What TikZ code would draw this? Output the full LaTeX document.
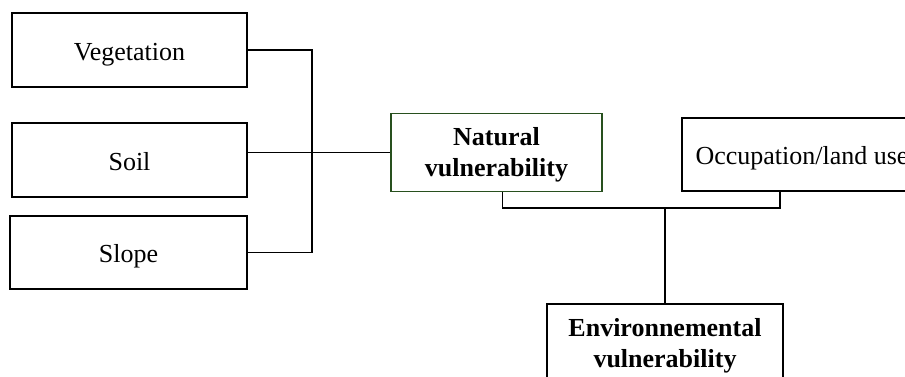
\documentclass[tikz,border=0pt]{standalone}
\usepackage{fontspec}
\setmainfont{Liberation Serif}
\definecolor{natgreen}{RGB}{40,80,30}

\begin{document}
\begin{tikzpicture}[x=0.5pt,y=-0.5pt,line width=0.8pt,
  box/.style={draw,rectangle,minimum width=117.5pt,minimum height=37pt,inner sep=0pt,
    text height=12pt,text depth=2pt,font=\fontsize{13}{15.5}\selectfont,align=center},
  boldbox/.style={box,text height=24pt,text depth=0pt,font=\fontsize{13}{15.5}\selectfont\bfseries}]
\clip (0,0) rectangle (905,376);
\draw (129.5,50) node[box] (veg) {Vegetation};
\draw (129.5,160) node[box] (soil) {Soil};
\draw (128.5,252.5) node[box,minimum width=118.5pt,minimum height=36.5pt] (slope) {Slope};
\draw (496.5,152.5) node[boldbox,draw=natgreen,minimum width=105.5pt,minimum height=39pt] (nat) {Natural\\vulnerability};
\draw (802,154.5) node[box,minimum width=120pt,minimum height=36.5pt] (occ) {Occupation/land use};
\draw (665,343) node[boldbox,minimum width=118pt,minimum height=39pt] (env) {Environnemental\\vulnerability};
\coordinate (j1) at (312,155);
\coordinate (j2) at (665,208);

\draw (veg.east) -| (j1) |- (slope.east);
\draw (nat.west -| soil.east) -- (nat.west);
\draw ([xshift=3pt]nat.south) |- (j2) -| ([xshift=-11pt]occ.south);
\draw (j2) -- (env.north);
\end{tikzpicture}
\end{document}
